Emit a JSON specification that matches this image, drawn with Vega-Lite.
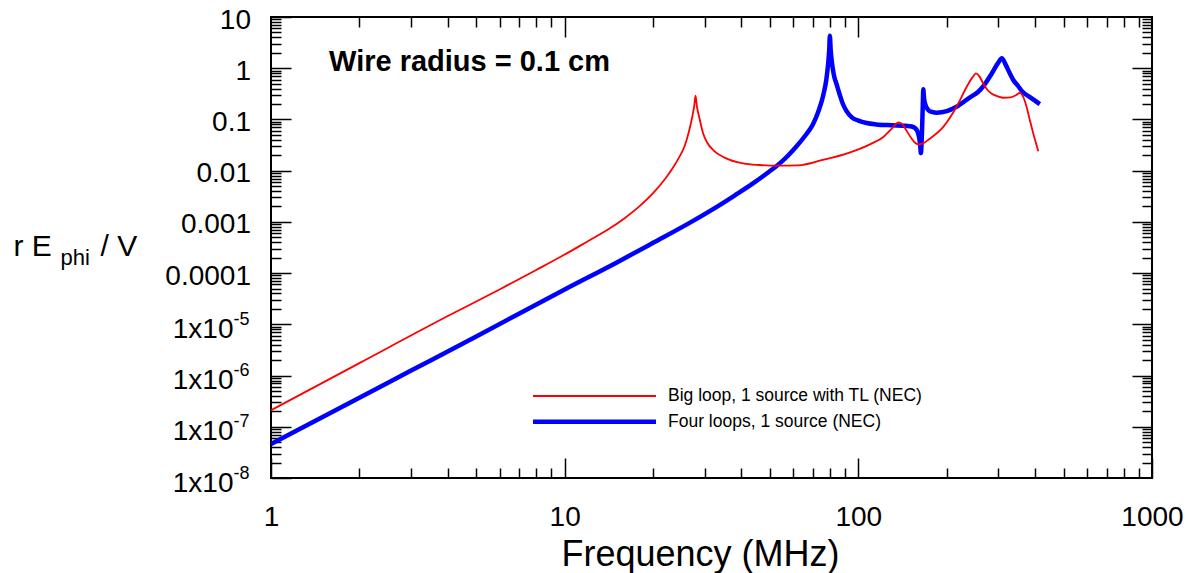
{
  "$schema": "https://vega.github.io/schema/vega-lite/v6.json",
  "width": 881,
  "height": 461,
  "autosize": {"type": "none"},
  "padding": {"left": 271, "top": 17, "right": 36, "bottom": 95},
  "background": "white",
  "config": {
    "font": "Liberation Sans",
    "view": {"stroke": "black", "strokeWidth": 2},
    "axis": {
      "domain": false,
      "grid": false,
      "tickColor": "black",
      "tickWidth": 1.5,
      "labelColor": "black",
      "titleColor": "black",
      "titleFontWeight": "normal",
      "labelFontSize": 28,
      "labelOverlap": false,
      "labelFlush": false,
      "labelBound": false
    },
    "legend": {"labelColor": "black", "labelFont": "Liberation Sans"}
  },
  "data": {
    "values": [
      {"series": "Four loops, 1 source (NEC)", "freq": 1, "value": 4.6e-8},
      {"series": "Four loops, 1 source (NEC)", "freq": 2, "value": 3.7e-7},
      {"series": "Four loops, 1 source (NEC)", "freq": 3, "value": 1.25e-6},
      {"series": "Four loops, 1 source (NEC)", "freq": 5, "value": 5.8e-6},
      {"series": "Four loops, 1 source (NEC)", "freq": 10, "value": 4.8e-5},
      {"series": "Four loops, 1 source (NEC)", "freq": 15, "value": 1.6e-4},
      {"series": "Four loops, 1 source (NEC)", "freq": 20, "value": 3.9e-4},
      {"series": "Four loops, 1 source (NEC)", "freq": 27, "value": 1.0e-3},
      {"series": "Four loops, 1 source (NEC)", "freq": 33.8, "value": 2.15e-3},
      {"series": "Four loops, 1 source (NEC)", "freq": 38, "value": 3.3e-3},
      {"series": "Four loops, 1 source (NEC)", "freq": 43.9, "value": 0.0057},
      {"series": "Four loops, 1 source (NEC)", "freq": 49, "value": 0.009},
      {"series": "Four loops, 1 source (NEC)", "freq": 54, "value": 0.0139},
      {"series": "Four loops, 1 source (NEC)", "freq": 58, "value": 0.0205},
      {"series": "Four loops, 1 source (NEC)", "freq": 61, "value": 0.028},
      {"series": "Four loops, 1 source (NEC)", "freq": 65.9, "value": 0.048},
      {"series": "Four loops, 1 source (NEC)", "freq": 70, "value": 0.08},
      {"series": "Four loops, 1 source (NEC)", "freq": 73.3, "value": 0.15},
      {"series": "Four loops, 1 source (NEC)", "freq": 76, "value": 0.3},
      {"series": "Four loops, 1 source (NEC)", "freq": 77.8, "value": 0.6},
      {"series": "Four loops, 1 source (NEC)", "freq": 79, "value": 1.3},
      {"series": "Four loops, 1 source (NEC)", "freq": 79.6, "value": 2.3},
      {"series": "Four loops, 1 source (NEC)", "freq": 80, "value": 4.3},
      {"series": "Four loops, 1 source (NEC)", "freq": 80.5, "value": 2.3},
      {"series": "Four loops, 1 source (NEC)", "freq": 81.3, "value": 1.3},
      {"series": "Four loops, 1 source (NEC)", "freq": 82.5, "value": 0.75},
      {"series": "Four loops, 1 source (NEC)", "freq": 84.4, "value": 0.48},
      {"series": "Four loops, 1 source (NEC)", "freq": 86.5, "value": 0.3},
      {"series": "Four loops, 1 source (NEC)", "freq": 88.6, "value": 0.2},
      {"series": "Four loops, 1 source (NEC)", "freq": 91.2, "value": 0.145},
      {"series": "Four loops, 1 source (NEC)", "freq": 95, "value": 0.11},
      {"series": "Four loops, 1 source (NEC)", "freq": 100, "value": 0.095},
      {"series": "Four loops, 1 source (NEC)", "freq": 106.7, "value": 0.085},
      {"series": "Four loops, 1 source (NEC)", "freq": 115, "value": 0.08},
      {"series": "Four loops, 1 source (NEC)", "freq": 130, "value": 0.077},
      {"series": "Four loops, 1 source (NEC)", "freq": 145, "value": 0.075},
      {"series": "Four loops, 1 source (NEC)", "freq": 152, "value": 0.073},
      {"series": "Four loops, 1 source (NEC)", "freq": 156, "value": 0.068},
      {"series": "Four loops, 1 source (NEC)", "freq": 159, "value": 0.058},
      {"series": "Four loops, 1 source (NEC)", "freq": 161, "value": 0.045},
      {"series": "Four loops, 1 source (NEC)", "freq": 162.5, "value": 0.03},
      {"series": "Four loops, 1 source (NEC)", "freq": 163.3, "value": 0.022},
      {"series": "Four loops, 1 source (NEC)", "freq": 164.5, "value": 0.045},
      {"series": "Four loops, 1 source (NEC)", "freq": 165.8, "value": 0.2},
      {"series": "Four loops, 1 source (NEC)", "freq": 166.4, "value": 0.39},
      {"series": "Four loops, 1 source (NEC)", "freq": 167.5, "value": 0.25},
      {"series": "Four loops, 1 source (NEC)", "freq": 170, "value": 0.18},
      {"series": "Four loops, 1 source (NEC)", "freq": 173, "value": 0.153},
      {"series": "Four loops, 1 source (NEC)", "freq": 178, "value": 0.14},
      {"series": "Four loops, 1 source (NEC)", "freq": 185, "value": 0.135},
      {"series": "Four loops, 1 source (NEC)", "freq": 200, "value": 0.145},
      {"series": "Four loops, 1 source (NEC)", "freq": 216, "value": 0.177},
      {"series": "Four loops, 1 source (NEC)", "freq": 240, "value": 0.27},
      {"series": "Four loops, 1 source (NEC)", "freq": 255, "value": 0.34},
      {"series": "Four loops, 1 source (NEC)", "freq": 266, "value": 0.44},
      {"series": "Four loops, 1 source (NEC)", "freq": 285, "value": 0.8},
      {"series": "Four loops, 1 source (NEC)", "freq": 300, "value": 1.3},
      {"series": "Four loops, 1 source (NEC)", "freq": 308, "value": 1.56},
      {"series": "Four loops, 1 source (NEC)", "freq": 318, "value": 1.15},
      {"series": "Four loops, 1 source (NEC)", "freq": 326, "value": 0.85},
      {"series": "Four loops, 1 source (NEC)", "freq": 337, "value": 0.59},
      {"series": "Four loops, 1 source (NEC)", "freq": 350, "value": 0.45},
      {"series": "Four loops, 1 source (NEC)", "freq": 360, "value": 0.36},
      {"series": "Four loops, 1 source (NEC)", "freq": 385, "value": 0.27},
      {"series": "Four loops, 1 source (NEC)", "freq": 415, "value": 0.2},
      {"series": "Big loop, 1 source with TL (NEC)", "freq": 1, "value": 2.1e-7},
      {"series": "Big loop, 1 source with TL (NEC)", "freq": 2, "value": 1.75e-6},
      {"series": "Big loop, 1 source with TL (NEC)", "freq": 4, "value": 1.45e-5},
      {"series": "Big loop, 1 source with TL (NEC)", "freq": 6, "value": 4.8e-5},
      {"series": "Big loop, 1 source with TL (NEC)", "freq": 8, "value": 1.15e-4},
      {"series": "Big loop, 1 source with TL (NEC)", "freq": 10, "value": 2.3e-4},
      {"series": "Big loop, 1 source with TL (NEC)", "freq": 12, "value": 4.2e-4},
      {"series": "Big loop, 1 source with TL (NEC)", "freq": 14, "value": 7.0e-4},
      {"series": "Big loop, 1 source with TL (NEC)", "freq": 16, "value": 1.18e-3},
      {"series": "Big loop, 1 source with TL (NEC)", "freq": 18, "value": 2.03e-3},
      {"series": "Big loop, 1 source with TL (NEC)", "freq": 20, "value": 3.63e-3},
      {"series": "Big loop, 1 source with TL (NEC)", "freq": 22, "value": 6.95e-3},
      {"series": "Big loop, 1 source with TL (NEC)", "freq": 23.4, "value": 0.0115},
      {"series": "Big loop, 1 source with TL (NEC)", "freq": 24.5, "value": 0.018},
      {"series": "Big loop, 1 source with TL (NEC)", "freq": 25.6, "value": 0.03},
      {"series": "Big loop, 1 source with TL (NEC)", "freq": 26.4, "value": 0.054},
      {"series": "Big loop, 1 source with TL (NEC)", "freq": 27.2, "value": 0.113},
      {"series": "Big loop, 1 source with TL (NEC)", "freq": 27.6, "value": 0.18},
      {"series": "Big loop, 1 source with TL (NEC)", "freq": 27.9, "value": 0.29},
      {"series": "Big loop, 1 source with TL (NEC)", "freq": 28.2, "value": 0.18},
      {"series": "Big loop, 1 source with TL (NEC)", "freq": 28.7, "value": 0.113},
      {"series": "Big loop, 1 source with TL (NEC)", "freq": 29.6, "value": 0.054},
      {"series": "Big loop, 1 source with TL (NEC)", "freq": 30.6, "value": 0.035},
      {"series": "Big loop, 1 source with TL (NEC)", "freq": 32.1, "value": 0.025},
      {"series": "Big loop, 1 source with TL (NEC)", "freq": 35, "value": 0.018},
      {"series": "Big loop, 1 source with TL (NEC)", "freq": 40.5, "value": 0.0139},
      {"series": "Big loop, 1 source with TL (NEC)", "freq": 46.2, "value": 0.0129},
      {"series": "Big loop, 1 source with TL (NEC)", "freq": 53, "value": 0.0125},
      {"series": "Big loop, 1 source with TL (NEC)", "freq": 62.3, "value": 0.0127},
      {"series": "Big loop, 1 source with TL (NEC)", "freq": 75, "value": 0.016},
      {"series": "Big loop, 1 source with TL (NEC)", "freq": 90, "value": 0.021},
      {"series": "Big loop, 1 source with TL (NEC)", "freq": 100, "value": 0.026},
      {"series": "Big loop, 1 source with TL (NEC)", "freq": 110, "value": 0.033},
      {"series": "Big loop, 1 source with TL (NEC)", "freq": 122, "value": 0.046},
      {"series": "Big loop, 1 source with TL (NEC)", "freq": 130, "value": 0.066},
      {"series": "Big loop, 1 source with TL (NEC)", "freq": 137, "value": 0.088},
      {"series": "Big loop, 1 source with TL (NEC)", "freq": 141, "value": 0.082},
      {"series": "Big loop, 1 source with TL (NEC)", "freq": 146, "value": 0.06},
      {"series": "Big loop, 1 source with TL (NEC)", "freq": 152, "value": 0.042},
      {"series": "Big loop, 1 source with TL (NEC)", "freq": 156, "value": 0.035},
      {"series": "Big loop, 1 source with TL (NEC)", "freq": 160, "value": 0.0327},
      {"series": "Big loop, 1 source with TL (NEC)", "freq": 166, "value": 0.034},
      {"series": "Big loop, 1 source with TL (NEC)", "freq": 175, "value": 0.042},
      {"series": "Big loop, 1 source with TL (NEC)", "freq": 194, "value": 0.07},
      {"series": "Big loop, 1 source with TL (NEC)", "freq": 216, "value": 0.177},
      {"series": "Big loop, 1 source with TL (NEC)", "freq": 234, "value": 0.435},
      {"series": "Big loop, 1 source with TL (NEC)", "freq": 245, "value": 0.67},
      {"series": "Big loop, 1 source with TL (NEC)", "freq": 251.5, "value": 0.79},
      {"series": "Big loop, 1 source with TL (NEC)", "freq": 258, "value": 0.7},
      {"series": "Big loop, 1 source with TL (NEC)", "freq": 266, "value": 0.51},
      {"series": "Big loop, 1 source with TL (NEC)", "freq": 275, "value": 0.38},
      {"series": "Big loop, 1 source with TL (NEC)", "freq": 284, "value": 0.32},
      {"series": "Big loop, 1 source with TL (NEC)", "freq": 300, "value": 0.28},
      {"series": "Big loop, 1 source with TL (NEC)", "freq": 311, "value": 0.265},
      {"series": "Big loop, 1 source with TL (NEC)", "freq": 330, "value": 0.27},
      {"series": "Big loop, 1 source with TL (NEC)", "freq": 345, "value": 0.3},
      {"series": "Big loop, 1 source with TL (NEC)", "freq": 355, "value": 0.33},
      {"series": "Big loop, 1 source with TL (NEC)", "freq": 364, "value": 0.28},
      {"series": "Big loop, 1 source with TL (NEC)", "freq": 374, "value": 0.177},
      {"series": "Big loop, 1 source with TL (NEC)", "freq": 384, "value": 0.095},
      {"series": "Big loop, 1 source with TL (NEC)", "freq": 394, "value": 0.054},
      {"series": "Big loop, 1 source with TL (NEC)", "freq": 410, "value": 0.024}
    ]
  },
  "resolve": {"axis": {"x": "independent", "y": "independent"}},
  "layer": [
    {
      "mark": {"type": "line", "clip": true, "interpolate": "monotone"},
      "encoding": {
        "x": {
          "field": "freq", "type": "quantitative",
          "scale": {"type": "log", "domain": [1, 1000], "nice": false},
          "axis": {
            "orient": "bottom", "values": [1, 10, 100, 1000], "offset": -20, "tickSize": 20,
            "labelPadding": 25, "labelFontSize": 28, "labelExpr": "toString(datum.value)",
            "title": "Frequency (MHz)", "titleFontSize": 36, "titleX": 429, "titleY": 107,
            "titleAlign": "center", "titleBaseline": "alphabetic", "titleAnchor": null
          }
        },
        "y": {
          "field": "value", "type": "quantitative",
          "scale": {"type": "log", "domain": [1e-8, 10], "nice": false},
          "axis": {
            "orient": "left",
            "values": [10, 1, 0.1, 0.01, 0.001, 0.0001, 0.00001, 0.000001, 0.0000001, 0.00000001],
            "offset": -20, "tickSize": 20, "labelFontSize": 28, "labelBaseline": "middle",
            "labelExpr": "datum.value >= 0.00005 ? toString(datum.value) : '1x10'",
            "labelPadding": {"condition": {"test": "datum.value < 0.00005", "value": 38}, "value": 20.5},
            "labelOffset": {"condition": {"test": "datum.value < 0.00005", "value": 5}, "value": 3},
            "title": "r E", "titleAngle": 0, "titleFontSize": 30, "titleX": -278, "titleY": 238,
            "titleAlign": "left", "titleBaseline": "alphabetic"
          }
        },
        "color": {
          "field": "series", "type": "nominal",
          "scale": {"domain": ["Big loop, 1 source with TL (NEC)", "Four loops, 1 source (NEC)"], "range": ["#ff0000", "#0000ff"]},
          "legend": {
            "orient": "none", "legendX": 311, "legendY": 367.5, "title": null,
            "symbolType": "M-6,0H6", "symbolSize": 420, "labelFontSize": 17.5, "labelOffset": 61,
            "rowPadding": 4.7, "padding": 0, "labelLimit": 400
          }
        },
        "strokeWidth": {
          "field": "series", "type": "nominal",
          "scale": {"domain": ["Big loop, 1 source with TL (NEC)", "Four loops, 1 source (NEC)"], "range": [1.8, 4.5]},
          "legend": {
            "orient": "none", "legendX": 311, "legendY": 367.5, "title": null,
            "symbolType": "M-6,0H6", "symbolSize": 420, "labelFontSize": 17.5, "labelOffset": 61,
            "rowPadding": 4.7, "padding": 0, "labelLimit": 400
          }
        }
      }
    },
    {
      "mark": {"type": "point", "opacity": 0},
      "encoding": {
        "x": {
          "field": "freq", "type": "quantitative",
          "scale": {"type": "log", "domain": [1, 1000], "nice": false},
          "axis": {"orient": "bottom", "values": [2, 3, 4, 5, 6, 7, 8, 9, 20, 30, 40, 50, 60, 70, 80, 90, 200, 300, 400, 500, 600, 700, 800, 900], "offset": -10, "tickSize": 10, "labels": false, "title": null}
        },
        "y": {
          "field": "value", "type": "quantitative",
          "scale": {"type": "log", "domain": [1e-8, 10], "nice": false},
          "axis": {
            "orient": "left",
            "values": [2e-8, 3e-8, 4e-8, 5e-8, 6e-8, 7e-8, 8e-8, 9e-8, 2e-7, 3e-7, 4e-7, 5e-7, 6e-7, 7e-7, 8e-7, 9e-7, 2e-6, 3e-6, 4e-6, 5e-6, 6e-6, 7e-6, 8e-6, 9e-6, 2e-5, 3e-5, 4e-5, 5e-5, 6e-5, 7e-5, 8e-5, 9e-5, 2e-4, 3e-4, 4e-4, 5e-4, 6e-4, 7e-4, 8e-4, 9e-4, 0.002, 0.003, 0.004, 0.005, 0.006, 0.007, 0.008, 0.009, 0.02, 0.03, 0.04, 0.05, 0.06, 0.07, 0.08, 0.09, 0.2, 0.3, 0.4, 0.5, 0.6, 0.7, 0.8, 0.9, 2, 3, 4, 5, 6, 7, 8, 9],
            "offset": -10, "tickSize": 10, "labels": false,
            "title": "phi", "titleAngle": 0, "titleFontSize": 22, "titleX": -221, "titleY": 247,
            "titleAlign": "left", "titleBaseline": "alphabetic"
          }
        }
      }
    },
    {
      "mark": {"type": "point", "opacity": 0},
      "encoding": {
        "x": {
          "field": "freq", "type": "quantitative",
          "scale": {"type": "log", "domain": [1, 1000], "nice": false},
          "axis": {"orient": "top", "values": [10, 100], "offset": -20, "tickSize": 20, "labels": false, "title": null}
        },
        "y": {
          "field": "value", "type": "quantitative",
          "scale": {"type": "log", "domain": [1e-8, 10], "nice": false},
          "axis": {"orient": "right", "values": [1, 0.1, 0.01, 0.001, 0.0001, 0.00001, 0.000001, 0.0000001], "offset": -20, "tickSize": 20, "labels": false, "title": null}
        }
      }
    },
    {
      "mark": {"type": "point", "opacity": 0},
      "encoding": {
        "x": {
          "field": "freq", "type": "quantitative",
          "scale": {"type": "log", "domain": [1, 1000], "nice": false},
          "axis": {"orient": "top", "values": [2, 3, 4, 5, 6, 7, 8, 9, 20, 30, 40, 50, 60, 70, 80, 90, 200, 300, 400, 500, 600, 700, 800, 900], "offset": -10, "tickSize": 10, "labels": false, "title": null}
        },
        "y": {
          "field": "value", "type": "quantitative",
          "scale": {"type": "log", "domain": [1e-8, 10], "nice": false},
          "axis": {
            "orient": "right",
            "values": [2e-8, 3e-8, 4e-8, 5e-8, 6e-8, 7e-8, 8e-8, 9e-8, 2e-7, 3e-7, 4e-7, 5e-7, 6e-7, 7e-7, 8e-7, 9e-7, 2e-6, 3e-6, 4e-6, 5e-6, 6e-6, 7e-6, 8e-6, 9e-6, 2e-5, 3e-5, 4e-5, 5e-5, 6e-5, 7e-5, 8e-5, 9e-5, 2e-4, 3e-4, 4e-4, 5e-4, 6e-4, 7e-4, 8e-4, 9e-4, 0.002, 0.003, 0.004, 0.005, 0.006, 0.007, 0.008, 0.009, 0.02, 0.03, 0.04, 0.05, 0.06, 0.07, 0.08, 0.09, 0.2, 0.3, 0.4, 0.5, 0.6, 0.7, 0.8, 0.9, 2, 3, 4, 5, 6, 7, 8, 9],
            "offset": -10, "tickSize": 10, "labels": false, "title": null
          }
        }
      }
    },
    {
      "data": {"values": [{"label": "Wire radius = 0.1 cm"}]},
      "mark": {"type": "text", "align": "left", "baseline": "alphabetic", "fontSize": 29, "fontWeight": "bold", "font": "Liberation Sans", "color": "black"},
      "encoding": {
        "x": {
          "datum": 1.576, "type": "quantitative",
          "scale": {"type": "log", "domain": [1, 1000], "nice": false},
          "axis": null
        },
        "y": {
          "datum": 0.882, "type": "quantitative",
          "scale": {"type": "log", "domain": [1e-8, 10], "nice": false},
          "axis": {
            "orient": "left", "values": [0.00001, 0.000001, 0.0000001, 0.00000001],
            "ticks": false, "tickSize": 0, "labelFontSize": 18, "labelAlign": "left", "labelBaseline": "middle",
            "labelPadding": 38, "labelOffset": -5,
            "labelExpr": "'-' + round(-log(datum.value) / LN10)",
            "title": "/ V", "titleAngle": 0, "titleFontSize": 30, "titleX": -171, "titleY": 238,
            "titleAlign": "left", "titleBaseline": "alphabetic"
          }
        },
        "text": {"field": "label"}
      }
    }
  ]
}
